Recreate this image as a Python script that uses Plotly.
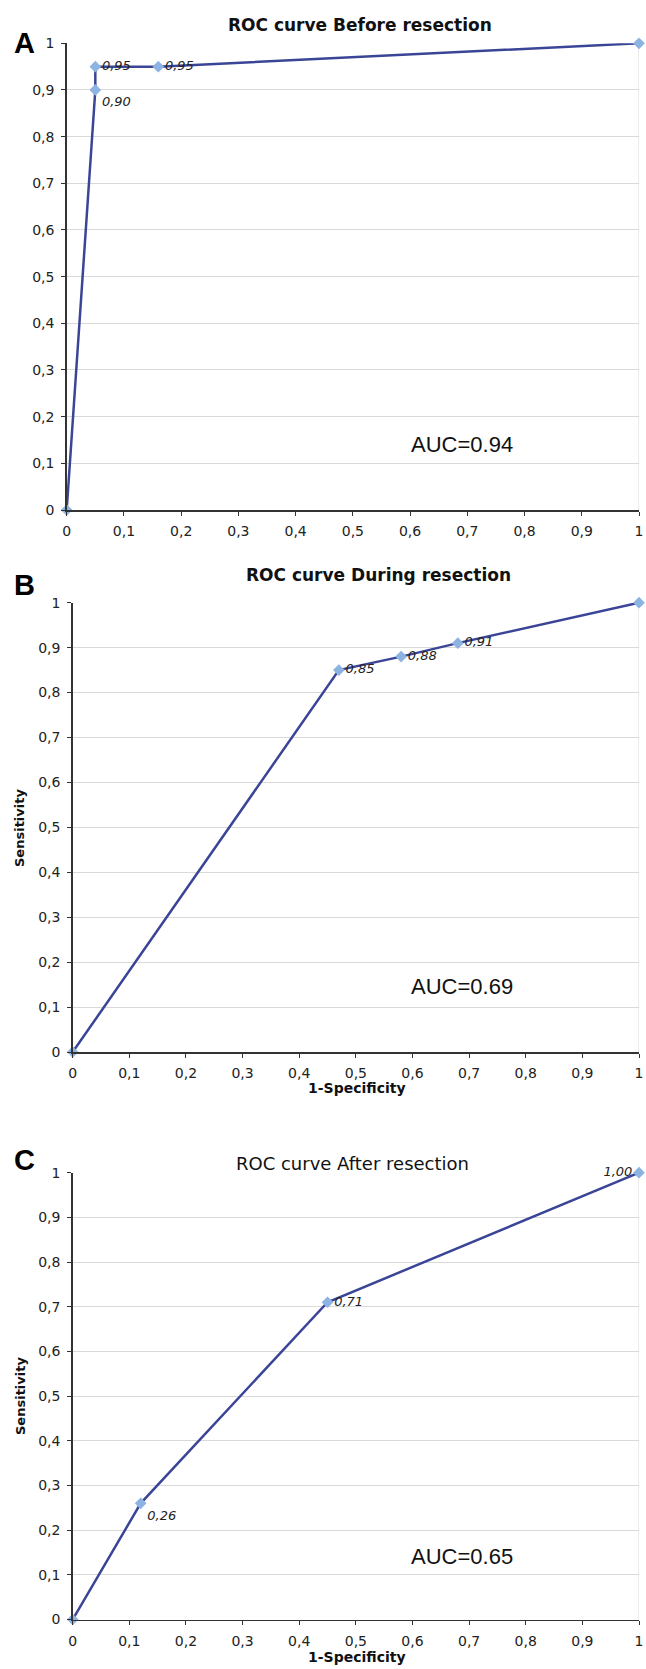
import plotly.graph_objects as go

W, H = 646, 1669

# ---------------- data ----------------
x_before = [0, 0.05, 0.05, 0.16, 1.0]
y_before = [0, 0.90, 0.95, 0.95, 1.0]
lbl_before = ["", "0,90", "0,95", "0,95", ""]

x_during = [0, 0.47, 0.58, 0.68, 1.0]
y_during = [0, 0.85, 0.88, 0.91, 1.0]
lbl_during = ["", "0,85", "0,88", "0,91", ""]

x_after = [0, 0.12, 0.45, 1.0]
y_after = [0, 0.26, 0.71, 1.0]
lbl_after = ["", "0,26", "0,71", "1,00"]

auc_texts = ["AUC=0.94", "AUC=0.69", "AUC=0.65"]
titles = ["ROC curve Before resection", "ROC curve During resection", "ROC curve After resection"]
panel_letters = ["A", "B", "C"]

x_tickvals = [0, 0.1, 0.2, 0.3, 0.4, 0.5, 0.6, 0.7, 0.8, 0.9, 1.0]
x_ticktext = ["0", "0,1", "0,2", "0,3", "0,4", "0,5", "0,6", "0,7", "0,8", "0,9", "1"]
y_tickvals = [0, 0.1, 0.2, 0.3, 0.4, 0.5, 0.6, 0.7, 0.8, 0.9, 1.0]
y_ticktext = ["0", "0,1", "0,2", "0,3", "0,4", "0,5", "0,6", "0,7", "0,8", "0,9", "1"]

# ---------------- styling ----------------
LINE = "#3b4597"
MARK = "#8db3e2"
GRID = "#d9d9d9"
TICKFONT = dict(family="DejaVu Sans", size=14, color="#222222")


def px(x):
    return x / W


def py(y):
    return 1 - y / H


# panel geometry in pixels: (x0, x1, ytop(=1), ybottom(=0))
panels = [
    (66.7, 639, 43.3, 510),
    (72.7, 639, 602.7, 1052),
    (72.7, 639, 1172.7, 1619.5),
]

fig = go.Figure()

series = [
    (x_before, y_before, lbl_before, ["top right", "bottom right", "middle right", "middle right", "top right"]),
    (x_during, y_during, lbl_during, ["top right", "middle right", "middle right", "middle right", "top right"]),
    (x_after, y_after, lbl_after, ["top right", "bottom right", "middle right", "middle left"]),
]

for i, (xs, ys, lbls, tpos) in enumerate(series):
    k = "" if i == 0 else str(i + 1)
    fig.add_trace(go.Scatter(
        x=xs, y=ys, text=lbls, mode="lines+markers+text",
        textposition=tpos,
        textfont=dict(family="DejaVu Sans", size=13, color="#222222", style="italic"),
        line=dict(color=LINE, width=2.5),
        marker=dict(symbol="diamond", size=9, color=MARK),
        cliponaxis=False, showlegend=False, hoverinfo="skip",
        xaxis="x" + k, yaxis="y" + k,
    ))

layout = dict(
    template="none",
    width=W, height=H,
    margin=dict(l=0, r=0, t=0, b=0, pad=0),
    paper_bgcolor="white", plot_bgcolor="white",
    showlegend=False,
)

annotations = []
shapes = []
for i, (x0, x1, yt, yb) in enumerate(panels):
    k = "" if i == 0 else str(i + 1)
    layout["xaxis" + k] = dict(
        domain=[px(x0), px(x1)], range=[0, 1], anchor="y" + k,
        tickvals=x_tickvals, ticktext=x_ticktext, tickfont=TICKFONT,
        showgrid=False, zeroline=False, showline=True, linecolor="#333333", linewidth=1.5,
        ticks="outside", ticklen=4, tickcolor="#333333", ticklabelstandoff=4,
        ticklabeloverflow="allow",
        automargin=False, fixedrange=True,
    )
    layout["yaxis" + k] = dict(
        domain=[py(yb), py(yt)], range=[0, 1], anchor="x" + k,
        tickvals=y_tickvals, ticktext=y_ticktext, tickfont=TICKFONT,
        showgrid=True, gridcolor=GRID, gridwidth=1, zeroline=False,
        showline=True, linecolor="#333333", linewidth=1.5,
        ticks="outside", ticklen=4, tickcolor="#333333", ticklabelstandoff=4,
        ticklabeloverflow="allow",
        automargin=False, fixedrange=True,
    )
    # light plot-area border on the right
    shapes.append(dict(type="line", xref="x" + k, yref="y" + k, x0=1, x1=1, y0=0, y1=1,
                       line=dict(color=GRID, width=1), layer="below"))
    # AUC annotation in data coords
    auc_pos = [(0.69, 0.14), (0.687, 0.146), (0.687, 0.141)][i]
    annotations.append(dict(
        x=auc_pos[0], y=auc_pos[1], xref="x" + k, yref="y" + k,
        text=auc_texts[i], showarrow=False, xanchor="center", yanchor="middle",
        font=dict(family="Liberation Sans", size=22, color="#111111"),
    ))

# titles
title_pos = [(360, 25), (378, 575), (352, 1163)]
title_bold = [True, True, False]
title_size = [17, 17, 18]
for i, (tx, ty) in enumerate(title_pos):
    t = titles[i]
    annotations.append(dict(
        x=px(tx), y=py(ty), xref="paper", yref="paper",
        text=("<b>%s</b>" % t) if title_bold[i] else t, showarrow=False,
        xanchor="center", yanchor="middle",
        font=dict(family="DejaVu Sans", size=title_size[i], color="#111111"),
    ))

# panel letters
letter_pos = [(24, 43), (24, 585), (24, 1160)]
for i, (lx, ly) in enumerate(letter_pos):
    annotations.append(dict(
        x=px(lx), y=py(ly), xref="paper", yref="paper",
        text="<b>%s</b>" % panel_letters[i], showarrow=False,
        xanchor="center", yanchor="middle",
        font=dict(family="Liberation Sans", size=29, color="#000000"),
    ))

# axis titles (panels B and C)
for (xt_y, yt_y) in [(1088, 828), (1657, 1396)]:
    annotations.append(dict(
        x=px(357), y=py(xt_y), xref="paper", yref="paper",
        text="<b>1-Specificity</b>", showarrow=False, xanchor="center", yanchor="middle",
        font=dict(family="DejaVu Sans", size=14, color="#111111"),
    ))
    annotations.append(dict(
        x=px(20), y=py(yt_y), xref="paper", yref="paper",
        text="<b>Sensitivity</b>", showarrow=False, xanchor="center", yanchor="middle",
        textangle=-90,
        font=dict(family="DejaVu Sans", size=13, color="#111111"),
    ))

layout["annotations"] = annotations
layout["shapes"] = shapes
fig.update_layout(**layout)
fig.write_html(
    "out.html",
    config={"displayModeBar": False, "staticPlot": True},
    post_script="document.body.style.margin='0';document.body.style.overflow='hidden';",
)
